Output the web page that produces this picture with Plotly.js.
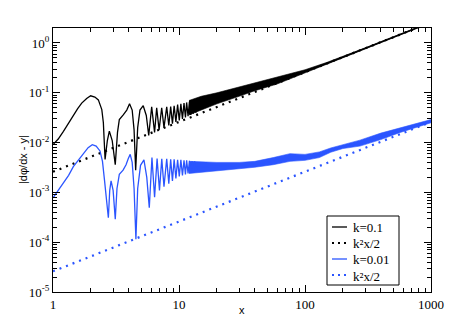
<!DOCTYPE html>
<html>
<head>
<meta charset="utf-8">
<script src="https://cdn.plot.ly/plotly-3.0.1.min.js"></script>
<style>
  html, body { margin: 0; padding: 0; background: #fff; }
  #plotDiv { width: 464px; height: 321px; }
</style>
</head>
<body>
<div id="plotDiv"></div>
<script>
"use strict";

const BLACK = '#000000';
const BLUE = '#2b55ff';

// k = 0.1 : resolved oscillations (x < 14), then the centre of the fuzzy band
const k1X = [1, 1.1, 1.21, 1.33, 1.45, 1.57, 1.69, 1.85, 1.99, 2.15, 2.29, 2.44, 2.51, 2.59,
    2.7, 2.8, 2.95, 3.12, 3.25, 3.36, 3.61, 3.85, 4.05, 4.25, 4.4, 4.53, 4.7, 4.9, 5.2,
    5.5, 5.75, 6.07, 6.4, 6.65, 6.95, 7.29, 7.6, 7.99, 8.3, 8.59, 8.87, 9.15, 9.45, 9.75,
    10.05, 10.35, 10.65, 10.96, 11.25, 11.5, 11.8, 12.1, 12.4, 12.7, 13.0, 13.3, 13.6, 14,
    17, 20, 25, 30, 40, 50, 60, 80, 100, 150, 200, 300, 400, 600, 800, 1000];
const k1Y = [0.0091, 0.0118, 0.0168, 0.025, 0.036, 0.048, 0.062, 0.077, 0.087, 0.082, 0.072, 0.046, 0.025, 0.0046,
    0.011, 0.017, 0.011, 0.0036, 0.016, 0.029, 0.036, 0.045, 0.06, 0.045, 0.018, 0.0028, 0.02, 0.045, 0.055,
    0.035, 0.014, 0.052, 0.016, 0.05, 0.018, 0.05, 0.02, 0.052, 0.022, 0.053, 0.024, 0.055, 0.026, 0.058,
    0.028, 0.06, 0.03, 0.062, 0.032, 0.064, 0.034, 0.066, 0.036, 0.068, 0.038, 0.07, 0.04, 0.055,
    0.066, 0.08, 0.095, 0.11, 0.135, 0.155, 0.178, 0.225, 0.268, 0.39, 0.52, 0.78, 1.04, 1.56, 2.08, 2.6];

// k = 0.1 : envelope of the unresolved band
const k1BandX = [12, 15, 20, 30, 40, 60, 80, 100, 150, 200, 300, 1000];
const k1BandHi = [0.07, 0.085, 0.1, 0.13, 0.16, 0.21, 0.25, 0.29, 0.41, 0.54, 0.8, 2.65];
const k1BandLo = [0.036, 0.045, 0.06, 0.085, 0.11, 0.15, 0.2, 0.245, 0.37, 0.5, 0.76, 2.55];

// k = 0.01
const k2X = [1, 1.1, 1.21, 1.33, 1.45, 1.6, 1.74, 1.9, 2.05, 2.2, 2.36, 2.47, 2.56, 2.65, 2.75,
    2.82, 2.89, 3.0, 3.12, 3.22, 3.36, 3.6, 3.8, 3.96, 4.1, 4.25, 4.4, 4.55, 4.7, 4.95, 5.27,
    5.55, 5.81, 6.1, 6.4, 6.7, 7.0, 7.3, 7.6, 7.99, 8.3, 8.59, 8.87, 9.15, 9.45, 9.75, 10.05,
    10.35, 10.65, 10.96, 11.25, 11.5, 11.8, 12.1, 12.4, 12.7, 13.0, 13.3, 13.6, 14,
    20, 30, 40, 56, 76, 100, 130, 160, 200, 273, 400, 570, 800, 1000];
const k2Y = [0.00078, 0.0011, 0.00155, 0.0022, 0.0033, 0.0046, 0.0062, 0.0079, 0.0091, 0.0085, 0.0068, 0.0042, 0.0018, 0.0008, 0.00031,
    0.0011, 0.0017, 0.0011, 0.00029, 0.0012, 0.0023, 0.0028, 0.0036, 0.0048, 0.0058, 0.004, 0.0012, 0.000115, 0.0012, 0.0035, 0.0045,
    0.002, 0.00049, 0.005, 0.0008, 0.0048, 0.0011, 0.0047, 0.0013, 0.0047, 0.0015, 0.0046, 0.0017, 0.0046, 0.0019, 0.0045, 0.0021,
    0.0045, 0.0022, 0.0044, 0.0023, 0.0044, 0.0024, 0.0043, 0.0025, 0.0042, 0.0026, 0.0042, 0.0027, 0.0032,
    0.0033, 0.0035, 0.0037, 0.0042, 0.0051, 0.0051, 0.0057, 0.0071, 0.0084, 0.0098, 0.0134, 0.018, 0.023, 0.027];

const k2BandX = [12, 20, 30, 40, 56, 76, 100, 130, 160, 200, 273, 400, 570, 800, 1000];
const k2BandHi = [0.0042, 0.004, 0.004, 0.0042, 0.005, 0.006, 0.0058, 0.0065, 0.0078, 0.0092, 0.0112, 0.0155, 0.02, 0.025, 0.029];
const k2BandLo = [0.0024, 0.0027, 0.003, 0.0032, 0.0036, 0.0042, 0.0044, 0.005, 0.0064, 0.0076, 0.0085, 0.0115, 0.016, 0.021, 0.025];

// k^2 x / 2 reference lines (end points)
const refX = [1, 1000];
const ref1Y = [0.0026, 2.6];
const ref2Y = [0.000026, 0.026];

// Tick labels
const xTickVals = [1, 10, 100, 1000];
const xTickText = ['1', '10', '100', '1000'];
const yTickVals = [1, 0.1, 0.01, 0.001, 0.0001, 0.00001];
const yTickText = ['10<sup>0</sup>', '10<sup>-1</sup>', '10<sup>-2</sup>', '10<sup>-3</sup>', '10<sup>-4</sup>', '10<sup>-5</sup>'];

// Legend entries
const legendNames = ['k=0.1', 'k²x/2', 'k=0.01', 'k²x/2'];
const legendColors = [BLACK, BLACK, BLUE, BLUE];
const legendDash = ['solid', '2px,4px', 'solid', '2px,4px'];

// Minor ticks 2..9 in each decade
function minorTicks(lo, hi) {
    const out = [];
    for (let p = lo; p < hi; p++) {
        for (let m = 2; m <= 9; m++) out.push(m * Math.pow(10, p));
    }
    return out;
}

function bandTraces(x, lo, hi, color) {
    return [
        { x: x, y: lo, type: 'scatter', mode: 'lines', line: { color: color, width: 0.6 },
          opacity: 0.75, showlegend: false, hoverinfo: 'skip' },
        { x: x, y: hi, type: 'scatter', mode: 'lines', line: { color: color, width: 0.6 },
          fill: 'tonexty', fillcolor: color, opacity: 0.75, showlegend: false, hoverinfo: 'skip' },
    ];
}

const traces = [
    ...bandTraces(k1BandX, k1BandLo, k1BandHi, BLACK),
    ...bandTraces(k2BandX, k2BandLo, k2BandHi, BLUE),
    { x: k1X, y: k1Y, name: 'k=0.1', type: 'scatter', mode: 'lines', line: { color: BLACK, width: 1.3 } },
    { x: refX, y: ref1Y, name: 'k²x/2', type: 'scatter', mode: 'lines',
      line: { color: BLACK, width: 2.2, dash: '2px,5px' } },
    { x: k2X, y: k2Y, name: 'k=0.01', type: 'scatter', mode: 'lines', line: { color: BLUE, width: 1.3 } },
    { x: refX, y: ref2Y, name: 'k²x/2', type: 'scatter', mode: 'lines',
      line: { color: BLUE, width: 2.2, dash: '2px,5px' } },
];

// Legend and axis titles placed by hand in pixel terms of the plot box
const PLOT_L = 53, PLOT_B = 292, PLOT_W = 378, PLOT_H = 264;
const px = v => (v - PLOT_L) / PLOT_W;
const py = v => (PLOT_B - v) / PLOT_H;
const rowY = [227, 243, 259, 275];

const shapes = [{
    type: 'rect', xref: 'paper', yref: 'paper',
    x0: px(327), x1: px(399), y0: py(285), y1: py(216),
    line: { color: BLACK, width: 1 }, fillcolor: '#fff', layer: 'above',
}];
const annotations = [];
legendNames.forEach((name, i) => {
    shapes.push({
        type: 'line', xref: 'paper', yref: 'paper',
        x0: px(332), x1: px(347), y0: py(rowY[i]), y1: py(rowY[i]),
        line: { color: legendColors[i], width: legendDash[i] === 'solid' ? 1.3 : 2, dash: legendDash[i] },
        layer: 'above',
    });
    annotations.push({
        xref: 'paper', yref: 'paper', x: px(352), y: py(rowY[i] + (i % 2 ? 1 : 0)),
        xanchor: 'left', yanchor: 'middle', showarrow: false, text: name, borderpad: 0,
        font: { family: 'Liberation Serif', size: 13, color: BLACK },
    });
});

// Axis titles
annotations.push({
    xref: 'paper', yref: 'paper', x: px(242), y: py(310), xanchor: 'center', yanchor: 'middle',
    showarrow: false, text: 'x', font: { family: 'Liberation Sans', size: 11, color: BLACK },
});
annotations.push({
    xref: 'paper', yref: 'paper', x: px(23), y: py(160), xanchor: 'center', yanchor: 'middle',
    textangle: -90, showarrow: false, text: '|dφ/dx - y|',
    font: { family: 'Liberation Sans', size: 11, color: BLACK },
});

const axisBase = {
    type: 'log',
    tickmode: 'array',
    ticks: 'inside',
    ticklen: 7,
    tickwidth: 1,
    tickcolor: BLACK,
    showline: true,
    linecolor: BLACK,
    linewidth: 1,
    mirror: 'allticks',
    showgrid: false,
    zeroline: false,
    tickfont: { family: 'Liberation Serif', size: 13, color: BLACK },
};

const layout = {
    width: 464,
    height: 321,
    margin: { l: 53, r: 33, t: 28, b: 29, pad: 0 },
    paper_bgcolor: '#fff',
    plot_bgcolor: '#fff',
    showlegend: false,
    xaxis: Object.assign({}, axisBase, {
        range: [0, 3],
        tickvals: xTickVals,
        ticktext: xTickText,
        minor: { ticks: 'inside', ticklen: 4, tickcolor: BLACK, tickmode: 'array', tickvals: minorTicks(0, 3), showgrid: false },
    }),
    yaxis: Object.assign({}, axisBase, {
        range: [-5, 0.301],
        tickvals: yTickVals,
        ticktext: yTickText,
        minor: { ticks: 'inside', ticklen: 4, tickcolor: BLACK, tickmode: 'array', tickvals: minorTicks(-5, 1), showgrid: false },
    }),
    shapes: shapes,
    annotations: annotations,
};

Plotly.newPlot('plotDiv', traces, layout, { staticPlot: true });
</script>
</body>
</html>
